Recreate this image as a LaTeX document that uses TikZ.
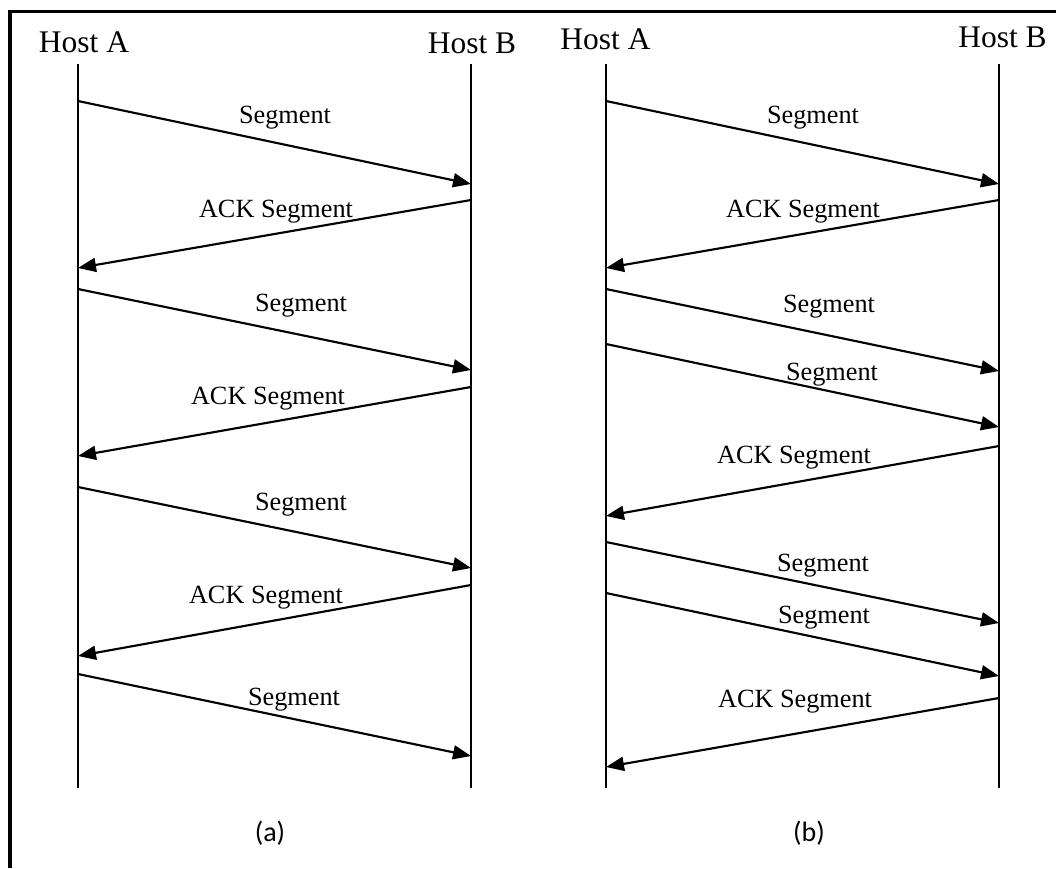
\documentclass[tikz,border=0pt]{standalone}
\usepackage{fontspec}
\setmainfont{Liberation Serif}
\newfontfamily\capfont{Carlito}
\usetikzlibrary{arrows.meta}

\begin{document}
\begin{tikzpicture}[x=0.75pt,y=-0.75pt,
  frameline/.style={line width=2.3pt},
  lifeline/.style={line width=1.4pt},
  msg/.style={line width=1.6pt,-{Triangle[length=13.5pt,width=10.5pt]}},
  hostlbl/.style={font=\fontsize{23.6}{28}\selectfont,anchor=base,inner sep=0pt},
  msglbl/.style={font=\fontsize{19.7}{24}\selectfont,anchor=base,inner sep=0pt},
  caplbl/.style={font=\capfont\fontsize{21}{25}\selectfont,anchor=center,inner sep=0pt}]
\useasboundingbox (0,0) rectangle (1056,868);

% open frame: top and left edges only
\coordinate (fTL) at (10,11.5);
\coordinate (fTR) at (1056,11.5);
\coordinate (fBL) at (10,868);
\draw[frameline] (fBL) -- (fTL) -- (fTR);

% ---------------- panel (a) ----------------
\node[hostlbl] (aA) at (84,52) {Host A};
\node[hostlbl] (aB) at (472,53) {Host B};
\coordinate (aAtop) at (78,64);  \coordinate (aAbot) at (78,788);
\coordinate (aBtop) at (471,64); \coordinate (aBbot) at (471,788);
\draw[lifeline] (aAtop) -- (aAbot);
\draw[lifeline] (aBtop) -- (aBbot);

\coordinate (a1s) at (78,101);  \coordinate (a1e) at (471,184);
\coordinate (a2s) at (471,200); \coordinate (a2e) at (78,268);
\coordinate (a3s) at (78,289);  \coordinate (a3e) at (471,370);
\coordinate (a4s) at (471,387); \coordinate (a4e) at (78,456);
\coordinate (a5s) at (78,487);  \coordinate (a5e) at (471,568);
\coordinate (a6s) at (471,585); \coordinate (a6e) at (78,656);
\coordinate (a7s) at (78,674);  \coordinate (a7e) at (471,756);
\draw[msg] (a1s) -- (a1e);
\draw[msg] (a2s) -- (a2e);
\draw[msg] (a3s) -- (a3e);
\draw[msg] (a4s) -- (a4e);
\draw[msg] (a5s) -- (a5e);
\draw[msg] (a6s) -- (a6e);
\draw[msg] (a7s) -- (a7e);

\node[msglbl] (al1) at (285,123) {Segment};
\node[msglbl] (al2) at (276,217) {ACK Segment};
\node[msglbl] (al3) at (301,311) {Segment};
\node[msglbl] (al4) at (268,404) {ACK Segment};
\node[msglbl] (al5) at (301,510) {Segment};
\node[msglbl] (al6) at (266,603) {ACK Segment};
\node[msglbl] (al7) at (294,705) {Segment};

\node[caplbl] (capa) at (270,833) {(a)};

% ---------------- panel (b) ----------------
\node[hostlbl] (bA) at (605.5,49) {Host A};
\node[hostlbl] (bB) at (1002.5,47) {Host B};
\coordinate (bAtop) at (606,64);  \coordinate (bAbot) at (606,788);
\coordinate (bBtop) at (999,64);  \coordinate (bBbot) at (999,788);
\draw[lifeline] (bAtop) -- (bAbot);
\draw[lifeline] (bBtop) -- (bBbot);

\coordinate (b1s) at (606,101); \coordinate (b1e) at (999,184);
\coordinate (b2s) at (999,200); \coordinate (b2e) at (606,268);
\coordinate (b3s) at (606,289); \coordinate (b3e) at (999,371);
\coordinate (b4s) at (606,344); \coordinate (b4e) at (999,427);
\coordinate (b5s) at (999,446); \coordinate (b5e) at (606,516);
\coordinate (b6s) at (606,542); \coordinate (b6e) at (999,623);
\coordinate (b7s) at (606,593); \coordinate (b7e) at (999,676);
\coordinate (b8s) at (999,698); \coordinate (b8e) at (606,767);
\draw[msg] (b1s) -- (b1e);
\draw[msg] (b2s) -- (b2e);
\draw[msg] (b3s) -- (b3e);
\draw[msg] (b4s) -- (b4e);
\draw[msg] (b5s) -- (b5e);
\draw[msg] (b6s) -- (b6e);
\draw[msg] (b7s) -- (b7e);
\draw[msg] (b8s) -- (b8e);

\node[msglbl] (bl1) at (813,123) {Segment};
\node[msglbl] (bl2) at (803,217) {ACK Segment};
\node[msglbl] (bl3) at (829,312) {Segment};
\node[msglbl] (bl4) at (832,380) {Segment};
\node[msglbl] (bl5) at (794,463) {ACK Segment};
\node[msglbl] (bl6) at (823,571) {Segment};
\node[msglbl] (bl7) at (824,623) {Segment};
\node[msglbl] (bl8) at (795,707) {ACK Segment};

\node[caplbl] (capb) at (809,833) {(b)};
\end{tikzpicture}
\end{document}
